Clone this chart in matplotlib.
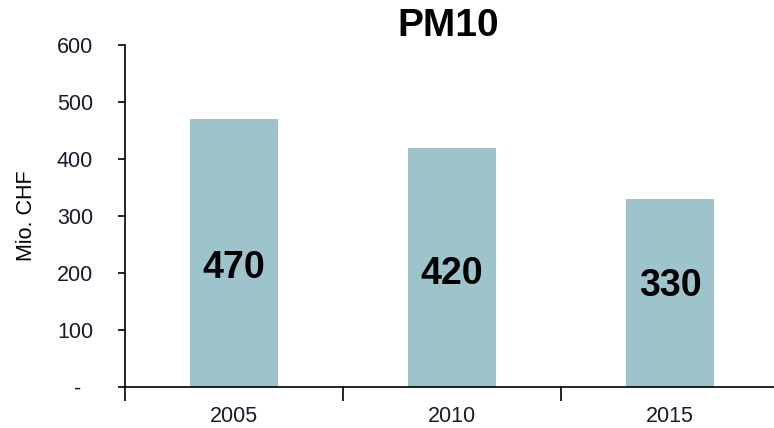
import matplotlib
matplotlib.use("Agg")
import matplotlib.pyplot as plt
import numpy as np

categories = ["2005", "2010", "2015"]
values = [470, 420, 330]
label_y = [209, 199, 178]
yticks = [0, 100, 200, 300, 400, 500, 600]
ytick_labels = ["-  ", "100", "200", "300", "400", "500", "600"]

plt.rcParams['font.family'] = ['Liberation Sans', 'DejaVu Sans']

fig = plt.figure(figsize=(7.74, 4.28), dpi=100)
ax = fig.add_axes([125/774, 1-387/428, (780-125)/774, (387-45)/428])

x = np.arange(len(categories))
ax.bar(x, values, width=0.40, color="#9DC3CB", zorder=2)
for xi, v, ly in zip(x, values, label_y):
    ax.text(xi, ly, str(v), ha="center", va="center", fontsize=27, fontweight="bold", color="black")

ax.set_xlim(-0.5, 2.5 + (780-779)/218)
ax.set_ylim(0, 600)
ax.set_yticks(yticks)
ax.set_yticklabels(ytick_labels, fontsize=15.5, color="#1a1a2a")
ax.set_xticks(x)
ax.set_xticklabels(categories, fontsize=15.5, color="#1a1a2a")
ax.tick_params(axis="x", length=0, pad=14)
ax.set_xticks([-0.5, 0.5, 1.5], minor=True)
ax.tick_params(axis="x", which="minor", length=10, width=1.2, direction="out")
ax.tick_params(axis="y", length=5, width=1.2, direction="out", pad=18)

ax.spines["top"].set_visible(False)
ax.spines["right"].set_visible(False)
ax.spines["left"].set_linewidth(1.2)
ax.spines["bottom"].set_linewidth(1.2)
ax.set_ylabel("Mio. CHF", fontsize=15.5)
ax.yaxis.set_label_coords(-(125-37)/655, 0.5)

fig.text(448/774, 1-26/428, "PM10", ha="center", va="center", fontsize=28, fontweight="bold")

fig.savefig("out.png", dpi=100)
